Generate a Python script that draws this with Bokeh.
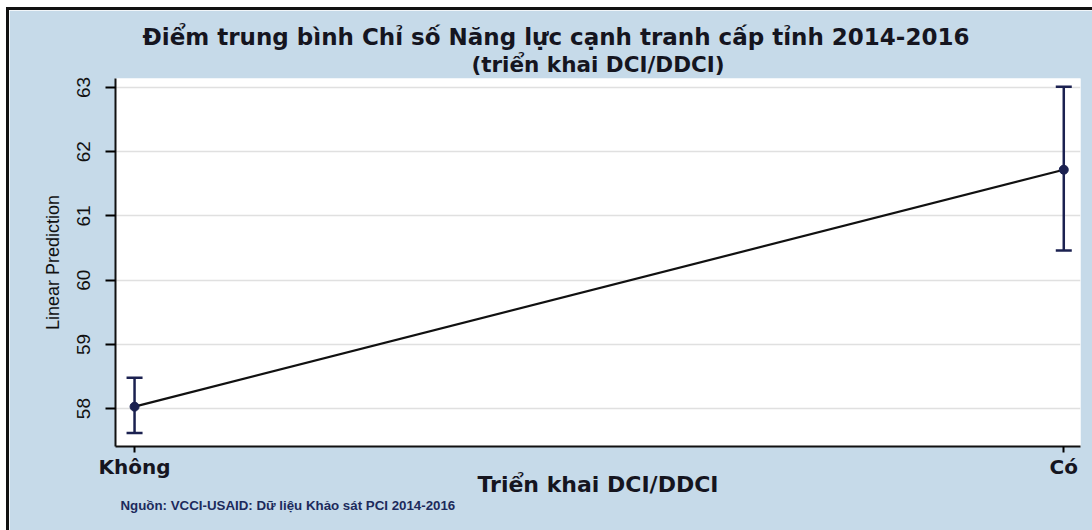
from bokeh.plotting import figure
from bokeh.models import ColumnDataSource, Whisker, TeeHead, FixedTicker, Range1d, Title
from bokeh.embed import file_html
from bokeh.resources import INLINE

# ---- data ----
groups = ["Không", "Có"]
pred = [58.03, 61.72]
ci_low = [57.62, 60.46]
ci_high = [58.48, 63.01]
y_ticks = [58, 59, 60, 61, 62, 63]

title_line1 = "Điểm trung bình Chỉ số Năng lực cạnh tranh cấp tỉnh 2014-2016"
title_line2 = "(triển khai DCI/DDCI)"
x_title = "Triển khai DCI/DDCI"
y_title = "Linear Prediction"
source_note = "Nguồn: VCCI-USAID: Dữ liệu Khảo sát PCI 2014-2016"

xs = list(range(len(groups)))
src = ColumnDataSource(dict(x=xs, y=pred, lo=ci_low, hi=ci_high))

BG = "#c6dae9"
NAVY = "#1b2150"
WIDE = "DejaVu Sans"
FONT = "Liberation Sans"
DARK = "#15151f"

p = figure(frame_width=965, frame_height=368, output_backend="svg", toolbar_location=None,
           x_range=Range1d(-0.0205, 1.018), y_range=Range1d(57.41, 63.14),
           min_border_left=106, min_border_right=12, min_border_top=68, min_border_bottom=84)
p.styles = {"margin-left": "6px", "margin-top": "7px",
            "border-top": "3px solid #111111", "border-left": "3px solid #111111"}
p.border_fill_color = BG
p.background_fill_color = "white"
p.outline_line_color = None

# titles (last added is farthest from plot)
t2 = Title(text=title_line2, align="center", text_font=WIDE, text_font_size="21.5px",
           text_font_style="bold", text_color=DARK, standoff=4)
t1 = Title(text=title_line1, align="left", offset=27, text_font=WIDE, text_font_size="23px",
           text_font_style="bold", text_color=DARK, standoff=-4)
p.add_layout(t2, "above")
p.add_layout(t1, "above")

src_title = Title(text=source_note, align="left", offset=5, text_font=FONT, text_font_size="13.3px",
                  text_font_style="bold", text_color="#1c2a5c", standoff=-7)
p.add_layout(src_title, "below")

# grid
p.xgrid.grid_line_color = None
p.ygrid.grid_line_color = "#e0e0e0"
p.ygrid.grid_line_width = 1.5
p.ygrid.ticker = FixedTicker(ticks=y_ticks)

# y axis
p.yaxis.ticker = FixedTicker(ticks=y_ticks)
p.yaxis.axis_label = y_title
p.yaxis.axis_label_text_font = FONT
p.yaxis.axis_label_text_font_style = "normal"
p.yaxis.axis_label_text_font_size = "18px"
p.yaxis.axis_label_text_color = "#111111"
p.yaxis.axis_label_standoff = 12
p.yaxis.major_label_orientation = "vertical"
p.yaxis.major_label_text_font = FONT
p.yaxis.major_label_text_font_size = "19px"
p.yaxis.major_label_text_color = "#111111"
p.yaxis.major_label_standoff = 15
p.yaxis.axis_line_width = 2
p.yaxis.axis_line_color = "#111111"
p.yaxis.major_tick_line_width = 2
p.yaxis.major_tick_out = 10
p.yaxis.major_tick_in = 0
p.yaxis.minor_tick_line_color = None

# x axis
p.xaxis.ticker = FixedTicker(ticks=xs)
p.xaxis.major_label_overrides = {i: g for i, g in zip(xs, groups)}
p.xaxis.axis_label = x_title
p.xaxis.axis_label_text_font = WIDE
p.xaxis.axis_label_text_font_style = "bold"
p.xaxis.axis_label_text_font_size = "22px"
p.xaxis.axis_label_text_color = DARK
p.xaxis.axis_label_standoff = -10
p.xaxis.major_label_text_font = WIDE
p.xaxis.major_label_text_font_style = "bold"
p.xaxis.major_label_text_font_size = "20px"
p.xaxis.major_label_text_color = DARK
p.xaxis.major_label_standoff = 2
p.xaxis.axis_line_width = 2
p.xaxis.axis_line_color = "#111111"
p.xaxis.major_tick_line_width = 2
p.xaxis.major_tick_out = 6
p.xaxis.major_tick_in = 0
p.xaxis.minor_tick_line_color = None

# line connecting predictions
p.line("x", "y", source=src, line_color="#111111", line_width=2.2)

# CI whiskers
w = Whisker(base="x", lower="lo", upper="hi", source=src, dimension="height",
            line_color=NAVY, line_width=2.5,
            upper_head=TeeHead(size=16, line_color=NAVY, line_width=2.5),
            lower_head=TeeHead(size=16, line_color=NAVY, line_width=2.5))
p.add_layout(w)

p.scatter("x", "y", source=src, size=9, fill_color=NAVY, line_color=NAVY)

open("out.html", "w").write(file_html(p, INLINE))
